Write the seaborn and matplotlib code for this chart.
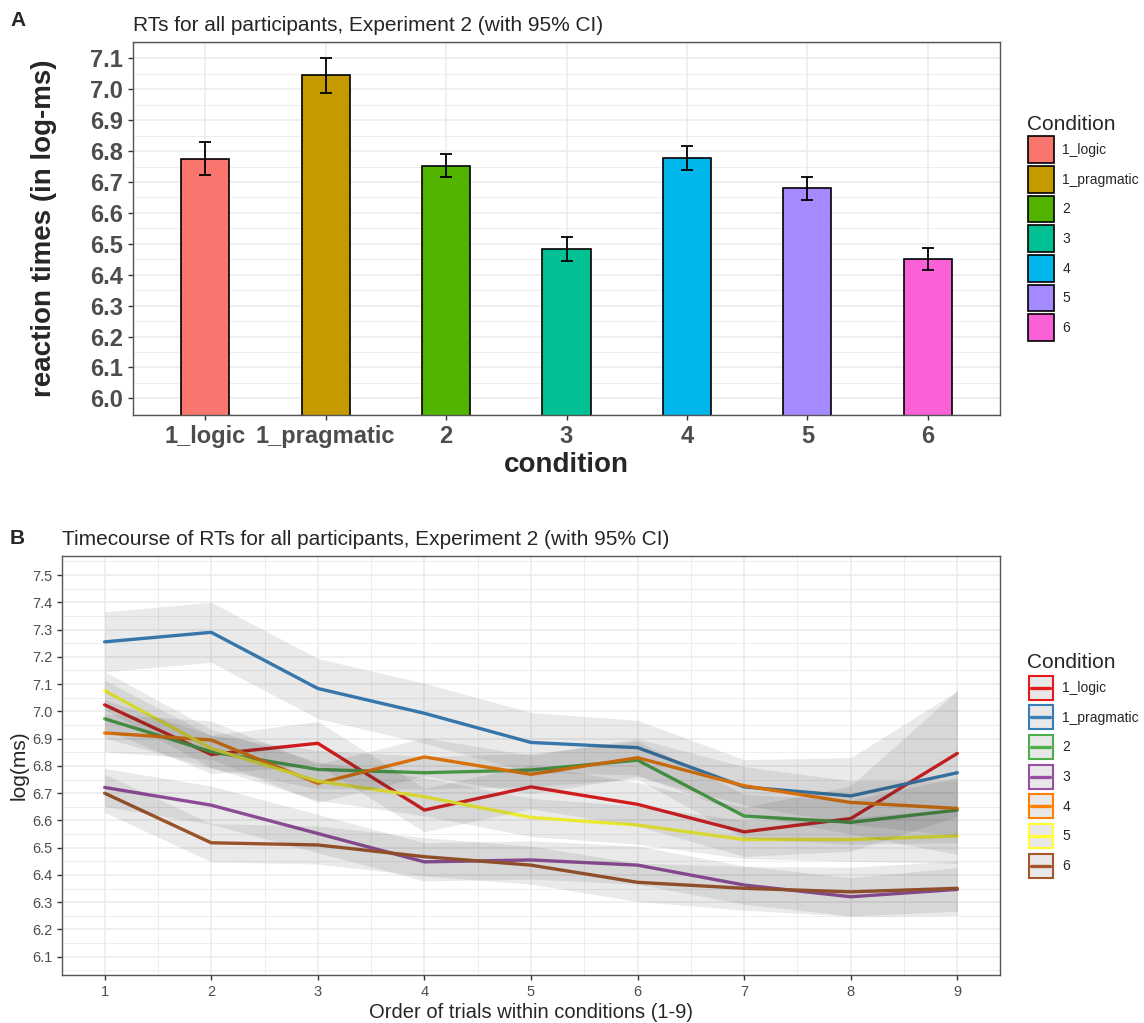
import numpy as np
import pandas as pd
import seaborn as sns
import matplotlib.pyplot as plt
from matplotlib.patches import Patch, Rectangle
from matplotlib.lines import Line2D
from matplotlib.legend_handler import HandlerBase
from matplotlib.ticker import MultipleLocator

# --- datos panel A: medias y IC 95% por condicion ---
conditions = ['1_logic', '1_pragmatic', '2', '3', '4', '5', '6']
mean_rt = [6.776, 7.046, 6.751, 6.483, 6.778, 6.679, 6.451]
ci_low = [6.722, 6.989, 6.715, 6.445, 6.739, 6.642, 6.416]
ci_high = [6.828, 7.100, 6.790, 6.523, 6.816, 6.716, 6.488]
bar_colors = ['#F8766D', '#C49A00', '#53B400', '#00C094', '#00B6EB', '#A58AFF', '#FB61D7']

# --- datos panel B: curso temporal por ensayo ---
trials = [1, 2, 3, 4, 5, 6, 7, 8, 9]
rt_1_logic = [7.024, 6.842, 6.883, 6.638, 6.723, 6.659, 6.558, 6.607, 6.846]
rt_1_pragmatic = [7.255, 7.290, 7.084, 6.993, 6.886, 6.867, 6.723, 6.690, 6.775]
rt_2 = [6.973, 6.852, 6.787, 6.775, 6.785, 6.821, 6.616, 6.593, 6.638]
rt_3 = [6.721, 6.656, 6.552, 6.448, 6.455, 6.436, 6.363, 6.320, 6.347]
rt_4 = [6.921, 6.895, 6.736, 6.833, 6.769, 6.830, 6.727, 6.666, 6.644]
rt_5 = [7.076, 6.864, 6.744, 6.687, 6.611, 6.583, 6.530, 6.530, 6.543]
rt_6 = [6.700, 6.518, 6.510, 6.467, 6.436, 6.373, 6.351, 6.338, 6.351]
# semi-ancho del IC (estimado del grafico)
hw_1_logic = [0.09, 0.07, 0.08, 0.08, 0.08, 0.08, 0.09, 0.12, 0.23]
hw_1_pragmatic = [0.11, 0.11, 0.11, 0.11, 0.11, 0.10, 0.10, 0.14, 0.30]
hw_2 = [0.07, 0.06, 0.07, 0.06, 0.06, 0.07, 0.08, 0.08, 0.12]
hw_3 = [0.07, 0.07, 0.07, 0.07, 0.07, 0.07, 0.07, 0.07, 0.08]
hw_4 = [0.07, 0.07, 0.07, 0.07, 0.07, 0.07, 0.07, 0.08, 0.10]
hw_5 = [0.07, 0.07, 0.07, 0.07, 0.07, 0.07, 0.07, 0.08, 0.10]
hw_6 = [0.07, 0.07, 0.07, 0.07, 0.07, 0.07, 0.08, 0.09, 0.10]
line_colors = ['#E41A1C', '#377EB8', '#4DAF4A', '#984EA3', '#FF7F00', '#FFFF33', '#A65628']

series = [rt_1_logic, rt_1_pragmatic, rt_2, rt_3, rt_4, rt_5, rt_6]
halfw = [hw_1_logic, hw_1_pragmatic, hw_2, hw_3, hw_4, hw_5, hw_6]

sns.set_theme(style='white')
plt.rcParams['font.family'] = ['Liberation Sans', 'DejaVu Sans']

fig = plt.figure(figsize=(11.44, 10.23), dpi=100)


def estilo_bw(ax):
    # imitando theme_bw de ggplot
    ax.set_facecolor('white')
    ax.grid(True, which='major', color='#EBEBEB', lw=1.1, zorder=0)
    ax.grid(True, which='minor', color='#EBEBEB', lw=0.6, zorder=0)
    ax.set_axisbelow(True)
    for s in ax.spines.values():
        s.set_color('#555555')
        s.set_linewidth(1.0)
    ax.tick_params(which='major', length=3.5, width=1, color='#333333', bottom=True, left=True)
    ax.tick_params(which='minor', length=0)


class CajaLinea(HandlerBase):
    # caja gris con borde de color y linea corta dentro (como ggplot)
    def create_artists(self, legend, orig_handle, xdescent, ydescent, width, height, fontsize, trans):
        c = orig_handle.get_color()
        r = Rectangle((-xdescent + 1, -ydescent + 1), width - 2, height - 2,
                      facecolor='#E8E8E8', edgecolor=c, lw=1.5, transform=trans)
        y = -ydescent + height / 2
        ln = Line2D([-xdescent + width * 0.15, -xdescent + width * 0.85], [y, y],
                    color=c, lw=2.4, transform=trans)
        return [r, ln]


leg_kw = dict(title='Condition', loc='upper left', frameon=False, fontsize=10,
              title_fontsize=15, alignment='left', handlelength=1.9,
              handleheight=2.6, labelspacing=0.2, handletextpad=0.6)

# --- Panel A ---
axA = fig.add_axes([133 / 1144, 1 - 415 / 1023, 867 / 1144, 373 / 1023])
dfA = pd.DataFrame({'condition': conditions, 'rt': mean_rt})
sns.barplot(data=dfA, x='condition', y='rt', hue='condition', palette=bar_colors,
            saturation=1, width=0.4, edgecolor='black', linewidth=1.2, legend=False,
            ax=axA, zorder=2)
pos = np.arange(len(conditions))
err = [np.array(mean_rt) - np.array(ci_low), np.array(ci_high) - np.array(mean_rt)]
axA.errorbar(pos, mean_rt, yerr=err, fmt='none', ecolor='black', elinewidth=1.3,
             capsize=4.5, capthick=1.3, zorder=3)
axA.set_ylim(5.946, 7.153)
axA.set_xlim(-0.6, 6.6)
axA.yaxis.set_major_locator(MultipleLocator(0.1))
axA.yaxis.set_minor_locator(MultipleLocator(0.05))
estilo_bw(axA)
axA.set_xlabel('condition', fontsize=20, fontweight='bold', labelpad=3)
axA.set_ylabel('reaction times (in log-ms)', fontsize=20, fontweight='bold', labelpad=24)
for lab in axA.get_xticklabels() + axA.get_yticklabels():
    lab.set_fontsize(17)
    lab.set_fontweight('bold')
    lab.set_color('#4D4D4D')
axA.set_title('RTs for all participants, Experiment 2 (with 95% CI)', fontsize=15,
              loc='left', pad=8)

handlesA = [Patch(facecolor=c, edgecolor='black', lw=1.2) for c in bar_colors]
fig.legend(handlesA, conditions, bbox_to_anchor=(1015 / 1144, 1 - 102 / 1023), **leg_kw)

# --- Panel B ---
axB = fig.add_axes([62 / 1144, 1 - 975 / 1023, 938 / 1144, 419 / 1023])
dfB = pd.DataFrame({
    'trial': trials * len(conditions),
    'rt': np.concatenate(series),
    'Condition': np.repeat(conditions, len(trials)),
})
sns.lineplot(data=dfB, x='trial', y='rt', hue='Condition', palette=line_colors,
             lw=2.4, legend=False, ax=axB, zorder=2)
for s, h in zip(series, halfw):
    lo = np.array(s) - np.array(h)
    hi = np.array(s) + np.array(h)
    axB.fill_between(trials, lo, hi, color='#333333', alpha=0.1, lw=0, zorder=3)
axB.set_xlim(0.6, 9.4)
axB.set_ylim(6.033, 7.57)
axB.xaxis.set_major_locator(MultipleLocator(1))
axB.xaxis.set_minor_locator(MultipleLocator(0.5))
axB.yaxis.set_minor_locator(MultipleLocator(0.05))
axB.set_yticks(np.round(np.arange(6.1, 7.51, 0.1), 1))
estilo_bw(axB)
axB.tick_params(labelsize=10.5, labelcolor='#4D4D4D')
axB.set_xlabel('Order of trials within conditions (1-9)', fontsize=14.5, labelpad=3)
axB.set_ylabel('log(ms)', fontsize=15, labelpad=2)
axB.set_title('Timecourse of RTs for all participants, Experiment 2 (with 95% CI)',
              fontsize=15, loc='left', pad=8)

handlesB = [Line2D([], [], color=c) for c in line_colors]
fig.legend(handlesB, conditions, bbox_to_anchor=(1015 / 1144, 1 - 640 / 1023),
           handler_map={Line2D: CajaLinea()}, **leg_kw)

# letras de panel
fig.text(10 / 1144, 1 - 20 / 1023, 'A', fontsize=15, fontweight='bold', va='center')
fig.text(10 / 1144, 1 - 538 / 1023, 'B', fontsize=15, fontweight='bold', va='center')

fig.savefig('out.png', dpi=100)
